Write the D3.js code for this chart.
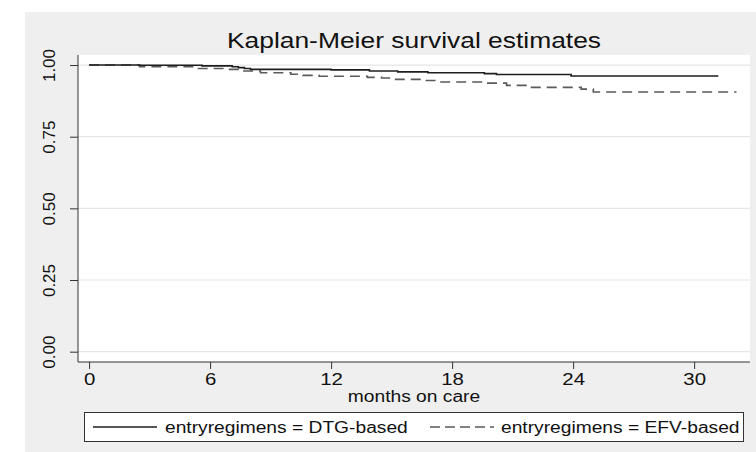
<!DOCTYPE html>
<html>
<head>
<meta charset="utf-8">
<script src="https://cdn.jsdelivr.net/npm/d3@7"></script>
<style>
body{margin:0;background:#fff}
text{font-family:"Liberation Sans",Arial,sans-serif;fill:#111}
</style>
</head>
<body>
<div id="chart"></div>
<script>
// KM step data (months, survival)
let dtgTimes=[0,2.5,5.6,7.1,7.4,7.7,8.0,12.0,13.9,15.3,16.8,19.6,20.2,23.9,31.2]
let dtgSurv=[1.000,0.999,0.997,0.994,0.991,0.988,0.985,0.983,0.979,0.976,0.973,0.970,0.967,0.962,0.962]
let efvTimes=[0,2.5,5.2,6.8,7.6,8.5,10.0,10.6,11.4,13.8,14.5,15.2,16.6,17.4,19.6,20.7,21.8,24.4,25.0,32.1]
let efvSurv=[1.000,0.994,0.988,0.985,0.979,0.973,0.968,0.964,0.961,0.957,0.955,0.950,0.946,0.941,0.937,0.929,0.922,0.916,0.906,0.906]
let xTicks=[0,6,12,18,24,30]
let yTicks=[0,0.25,0.5,0.75,1]
let seriesNames=["entryregimens = DTG-based","entryregimens = EFV-based"]
let titleText="Kaplan-Meier survival estimates"
let xTitle="months on care"

let svgWidth=756
let svgHeight=452
let plot={left:78,right:750,top:55,bottom:362}
let stretch=1.2 // picture is a bit wider than tall

let svg=d3.select("#chart")
.append("svg")
.attr("width",svgWidth)
.attr("height",svgHeight)

// graph region + plot region
svg.append("rect").attr("x",25).attr("y",12).attr("width",svgWidth-25).attr("height",svgHeight-12).attr("fill","#efefef")
svg.append("rect").attr("x",plot.left).attr("y",plot.top).attr("width",plot.right-plot.left).attr("height",plot.bottom-plot.top).attr("fill","#fff")

let xScale=d3.scaleLinear().domain([-0.55,32.77]).range([plot.left,plot.right])
let yScale=d3.scaleLinear().domain([-0.036,1.035]).range([plot.bottom,plot.top])

function widen(sel){
    sel.each(function(){
        let len=this.getComputedTextLength()
        d3.select(this).attr("textLength",len*stretch).attr("lengthAdjust","spacingAndGlyphs")
    })
}

// gridlines
svg.append("g").selectAll("line").data(yTicks).enter().append("line")
.attr("x1",plot.left).attr("x2",plot.right)
.attr("y1",d=>yScale(d)).attr("y2",d=>yScale(d))
.attr("stroke","#e6e6e6").attr("stroke-width",1.2)

// axes
let leftAxis=d3.axisLeft(yScale).tickValues(yTicks).tickSize(8).tickFormat(d3.format(".2f"))
let gy=svg.append("g").attr("transform",`translate(${plot.left},0)`).call(leftAxis)
gy.select(".domain").attr("d",`M0,${plot.top}V${plot.bottom}`)
// tick groups already sit at y, so only shift left and turn
gy.selectAll("text")
.attr("transform",`translate(${55-plot.left},0) rotate(-90)`)
.attr("x",0).attr("y",0).attr("dy",0)
.attr("text-anchor","middle")
.style("font-size","17px")

let bottomAxis=d3.axisBottom(xScale).tickValues(xTicks).tickSize(7)
let gx=svg.append("g").attr("transform",`translate(0,${plot.bottom})`).call(bottomAxis)
gx.select(".domain").attr("d",`M${plot.left},0H${plot.right}`)
gx.selectAll("text").attr("y",23).attr("dy",0).style("font-size","17px").call(widen)
svg.selectAll(".domain,.tick line").attr("stroke","#333")
svg.selectAll(".tick text").attr("fill","#111").style("font-family","Liberation Sans, Arial, sans-serif")

// title and axis title
svg.append("text").attr("x",414).attr("y",48).attr("text-anchor","middle")
.style("font-size","22px").text(titleText).call(widen)
svg.append("text").attr("x",414).attr("y",402).attr("text-anchor","middle")
.style("font-size","16px").text(xTitle).call(widen)

// survival curves
let line=d3.line().x(d=>xScale(d[0])).y(d=>yScale(d[1])).curve(d3.curveStepAfter)
svg.append("path").datum(d3.zip(efvTimes,efvSurv))
.attr("d",line).attr("fill","none").attr("stroke","#5a5a5a").attr("stroke-width",1.6).attr("stroke-dasharray","10,6")
svg.append("path").datum(d3.zip(dtgTimes,dtgSurv))
.attr("d",line).attr("fill","none").attr("stroke","#1e1e1e").attr("stroke-width",1.6)

// legend
let legend=svg.append("g")
legend.append("rect").attr("x",84.5).attr("y",412.5).attr("width",659).attr("height",29)
.attr("fill","#fff").attr("stroke","#333")
legend.append("line").attr("x1",93).attr("x2",157).attr("y1",427).attr("y2",427).attr("stroke","#1e1e1e").attr("stroke-width",1.6)
legend.append("text").attr("x",165).attr("y",433).style("font-size","16px").text(seriesNames[0]).call(widen)
legend.append("line").attr("x1",430).attr("x2",494).attr("y1",427).attr("y2",427).attr("stroke","#5a5a5a").attr("stroke-width",1.6).attr("stroke-dasharray","10,5")
legend.append("text").attr("x",501).attr("y",433).style("font-size","16px").text(seriesNames[1]).call(widen)
</script>
</body>
</html>
